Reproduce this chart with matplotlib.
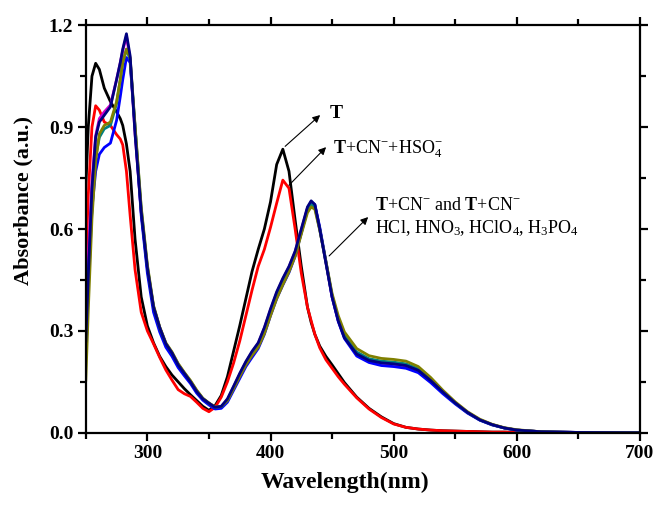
import matplotlib
matplotlib.use('Agg')
import matplotlib.pyplot as plt
from matplotlib.ticker import MultipleLocator

plt.rcParams['font.family'] = 'Liberation Serif'
plt.rcParams['mathtext.fontset'] = 'custom'
plt.rcParams['mathtext.rm'] = 'Liberation Serif'
plt.rcParams['mathtext.it'] = 'Liberation Serif:italic'
plt.rcParams['mathtext.bf'] = 'Liberation Serif:bold'

# wavelength grid (nm)
wl = [250, 252, 255, 258, 261, 265, 270, 275, 278, 280,
      283, 286, 290, 295, 300, 305, 310, 315, 320, 325,
      330, 335, 340, 345, 350, 355, 360, 365, 370, 375,
      380, 385, 390, 395, 400, 405, 410, 415, 420, 425,
      430, 433, 436, 440, 445, 450, 455, 460, 470, 480,
      490, 500, 510, 520, 530, 540, 550, 560, 570, 580,
      590, 600, 620, 650, 700]

# T
abs_T = [0.72, 0.90, 1.05, 1.088, 1.07, 1.015, 0.975, 0.945, 0.925, 0.905,
         0.85, 0.77, 0.57, 0.40, 0.315, 0.265, 0.225, 0.195, 0.17, 0.15,
         0.13, 0.112, 0.095, 0.078, 0.066, 0.08, 0.11, 0.165, 0.24, 0.315,
         0.395, 0.475, 0.54, 0.60, 0.68, 0.79, 0.835, 0.77, 0.626, 0.49,
         0.37, 0.325, 0.29, 0.255, 0.225, 0.20, 0.174, 0.148, 0.105, 0.072,
         0.047, 0.027, 0.016, 0.011, 0.008, 0.006, 0.005, 0.004, 0.003, 0.002,
         0.002, 0.001, 0.001, 0.0, 0.0]

# T + CN- + HSO4-
abs_HSO4 = [0.49, 0.70, 0.90, 0.963, 0.95, 0.915, 0.905, 0.878, 0.865, 0.848,
            0.77, 0.64, 0.48, 0.355, 0.30, 0.262, 0.222, 0.185, 0.155, 0.127,
            0.115, 0.107, 0.09, 0.072, 0.062, 0.075, 0.105, 0.15, 0.205, 0.27,
            0.345, 0.42, 0.49, 0.54, 0.605, 0.676, 0.744, 0.72, 0.60, 0.47,
            0.37, 0.33, 0.29, 0.25, 0.215, 0.19, 0.165, 0.143, 0.103, 0.07,
            0.045, 0.026, 0.016, 0.011, 0.008, 0.006, 0.005, 0.004, 0.003, 0.002,
            0.002, 0.001, 0.001, 0.0, 0.0]

# T + CN- with acids
abs_HCl = [0.35, 0.52, 0.74, 0.875, 0.925, 0.945, 0.965, 1.04, 1.09, 1.125,
           1.168, 1.10, 0.88, 0.65, 0.485, 0.37, 0.31, 0.262, 0.235, 0.2,
           0.175, 0.15, 0.122, 0.1, 0.087, 0.075, 0.077, 0.097, 0.135, 0.173,
           0.208, 0.238, 0.263, 0.308, 0.362, 0.412, 0.452, 0.488, 0.533, 0.598,
           0.662, 0.68, 0.67, 0.6, 0.5, 0.4, 0.33, 0.282, 0.232, 0.213,
           0.205, 0.202, 0.197, 0.183, 0.153, 0.119, 0.087, 0.059, 0.038, 0.024,
           0.014, 0.008, 0.003, 0.001, 0.0]

abs_HNO3 = [0.30, 0.47, 0.66, 0.77, 0.82, 0.84, 0.853, 0.92, 0.99, 1.04,
            1.105, 1.09, 0.90, 0.64, 0.47, 0.355, 0.297, 0.252, 0.225, 0.192,
            0.168, 0.145, 0.117, 0.096, 0.082, 0.07, 0.072, 0.09, 0.125, 0.16,
            0.195, 0.222, 0.248, 0.29, 0.345, 0.395, 0.435, 0.472, 0.52, 0.588,
            0.66, 0.68, 0.672, 0.605, 0.505, 0.4, 0.328, 0.278, 0.226, 0.207,
            0.198, 0.195, 0.19, 0.177, 0.148, 0.115, 0.085, 0.058, 0.037, 0.023,
            0.014, 0.008, 0.003, 0.001, 0.0]

abs_HClO4 = [0.22, 0.42, 0.66, 0.81, 0.87, 0.895, 0.905, 0.97, 1.04, 1.09,
             1.128, 1.10, 0.90, 0.66, 0.49, 0.372, 0.31, 0.263, 0.236, 0.202,
             0.176, 0.152, 0.124, 0.101, 0.087, 0.075, 0.077, 0.096, 0.133, 0.17,
             0.205, 0.233, 0.258, 0.3, 0.353, 0.403, 0.443, 0.48, 0.525, 0.59,
             0.655, 0.672, 0.664, 0.598, 0.502, 0.405, 0.336, 0.288, 0.238, 0.218,
             0.211, 0.208, 0.203, 0.188, 0.157, 0.121, 0.088, 0.06, 0.038, 0.024,
             0.014, 0.008, 0.003, 0.001, 0.0]

abs_H3PO4 = [0.155, 0.36, 0.63, 0.80, 0.88, 0.905, 0.915, 0.975, 1.04, 1.09,
             1.13, 1.105, 0.905, 0.665, 0.495, 0.375, 0.312, 0.265, 0.238, 0.204,
             0.178, 0.154, 0.126, 0.102, 0.088, 0.076, 0.078, 0.095, 0.13, 0.166,
             0.2, 0.228, 0.252, 0.292, 0.345, 0.395, 0.436, 0.474, 0.52, 0.585,
             0.648, 0.665, 0.658, 0.596, 0.505, 0.41, 0.345, 0.297, 0.248, 0.227,
             0.219, 0.216, 0.211, 0.195, 0.163, 0.125, 0.091, 0.062, 0.04, 0.025,
             0.015, 0.009, 0.003, 0.001, 0.0]

abs_CN = [0.27, 0.46, 0.72, 0.87, 0.915, 0.935, 0.96, 1.04, 1.09, 1.13,
          1.175, 1.11, 0.88, 0.65, 0.485, 0.37, 0.31, 0.262, 0.235, 0.2,
          0.175, 0.15, 0.122, 0.1, 0.087, 0.075, 0.078, 0.1, 0.137, 0.175,
          0.21, 0.24, 0.265, 0.31, 0.365, 0.415, 0.455, 0.49, 0.535, 0.6,
          0.665, 0.683, 0.672, 0.6, 0.5, 0.4, 0.33, 0.28, 0.232, 0.213,
          0.206, 0.203, 0.198, 0.184, 0.154, 0.12, 0.088, 0.06, 0.038, 0.024,
          0.014, 0.008, 0.003, 0.001, 0.0]

series = [
    (abs_T, 'black'),
    (abs_HSO4, 'red'),
    (abs_HCl, '#cc00cc'),
    (abs_HNO3, 'blue'),
    (abs_HClO4, '#008080'),
    (abs_H3PO4, '#808000'),
    (abs_CN, '#000080'),
]

fig = plt.figure(figsize=(6.55, 5.05), dpi=100)
ax = fig.add_axes([0.131, 0.143, 0.846, 0.807])

for y, c in series:
    ax.plot(wl, y, color=c, linewidth=2.0)

ax.set_xlim(250, 700)
ax.set_ylim(0, 1.2)
ax.xaxis.set_major_locator(MultipleLocator(100))
ax.xaxis.set_minor_locator(MultipleLocator(50))
ax.yaxis.set_major_locator(MultipleLocator(0.3))
ax.yaxis.set_minor_locator(MultipleLocator(0.15))
ax.set_xticks([300, 400, 500, 600, 700])
ax.yaxis.set_major_formatter(matplotlib.ticker.FormatStrFormatter('%.1f'))

for s in ax.spines.values():
    s.set_linewidth(1.6)
ax.tick_params(which='both', direction='out', top=True, right=True, width=1.6)
ax.tick_params(which='major', length=6, labelsize=14, pad=3)
ax.tick_params(which='minor', length=4)
for lab in ax.get_xticklabels() + ax.get_yticklabels():
    lab.set_fontweight('bold')

ax.set_xlabel('Wavelength(nm)', fontsize=17, fontweight='bold')
ax.set_ylabel('Absorbance (a.u.)', fontsize=16, fontweight='bold')
ax.xaxis.set_label_coords(0.467, -0.095)
ax.yaxis.set_label_coords(-0.094, 0.57)

arrow = dict(arrowstyle='-|>', color='black', lw=0.8, mutation_scale=11)
ax.annotate('', xy=(442, 0.941), xytext=(410.2, 0.838), arrowprops=arrow)
ax.annotate('', xy=(446.7, 0.847), xytext=(413.4, 0.723), arrowprops=arrow)
ax.annotate('', xy=(480.9, 0.641), xytext=(446, 0.515), arrowprops=arrow)

ax.text(448, 0.926, 'T', fontsize=14, fontweight='bold', va='baseline')
ax.text(450.8, 0.822, r'$\mathbf{T}$+CN$^{-}$+HSO$_{4}^{-}$', fontsize=13,
        va='baseline')
ax.text(485, 0.656, r'$\mathbf{T}$+CN$^{-}$ and $\mathbf{T}$+CN$^{-}$',
        fontsize=13, va='baseline')
ax.text(485, 0.588, r'HCl, HNO$_{3}$, HClO$_{4}$, H$_{3}$PO$_{4}$',
        fontsize=13, va='baseline')

fig.savefig('out.png', dpi=100)
